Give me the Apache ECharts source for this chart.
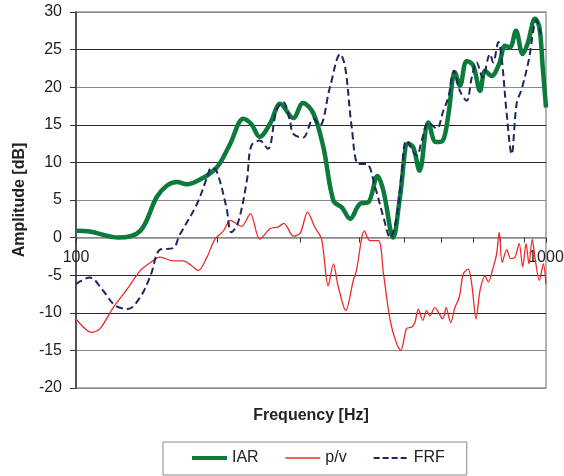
<!DOCTYPE html>
<html><head><meta charset="utf-8">
<script src="https://cdn.jsdelivr.net/npm/echarts@6/dist/echarts.min.js"></script>
<style>html,body{margin:0;padding:0;background:#fff}#c{width:564px;height:476px}</style>
</head><body><div id="c"></div>
<script>
const seriesNames = ['IAR', 'p/v', 'FRF'];
const iarFreq = [100,107,123,137,148.5,156,164,172,187,196,202,213,227,236,246,259,272,290,304,320,336,353,368,383,402,419,438,451,473,489,509,522,538,562,583,603,620,640,656,678,700,724,742,766,795,818,838,863,892,914,948,968,984,1000];
const iarAmp = [0.9,0.8,0,0.9,5.4,6.9,7.4,7.1,8.0,8.9,9.8,12.5,15.8,15.1,13.4,15.2,17.8,15.9,17.9,16.5,12.0,4.9,4.0,2.5,4.5,4.7,8.2,6.2,0,5.4,12.5,12.0,8.9,15.3,12.7,12.9,16.4,22.0,20.2,23.5,22.9,19.5,22.2,21.5,23.1,25.5,25.3,27.5,24.4,25.8,29.1,28.0,22.7,17.3];
const pvFreq = [100,108,112.5,120,128,137,144,151,161,169,176,182,190,197.5,206,213,225,235,246,259,269,277,290,300,311,322,333,344,353,361,375,389,395,411,422,440,451,466,481,491,505,518,526,535,547,557,566,580,603,613,627,640,654,667,683,695,710,724,742,754,770,785,795,807,825,841,859,877,892,907,920,935,948,968,987,1000];
const pvAmp = [-10.8,-12.6,-12.1,-9.3,-7.0,-4.4,-3.3,-2.6,-3.1,-3.1,-3.7,-4.4,-2.6,-0.2,0.9,2.3,1.5,3.2,-0.2,1.2,1.4,1.9,0.2,0.6,3.4,1.4,-0.2,-6.4,-3.5,-6.4,-9.7,-5.7,-4.4,0.9,-0.4,-0.4,-4.8,-11.0,-14.1,-15.0,-12.1,-11.9,-11.3,-9.5,-11.0,-9.7,-10.4,-9.3,-10.8,-9.3,-11.3,-9.3,-7.9,-4.8,-4.2,-6.2,-10.8,-7.0,-5.1,-5.9,-4.2,-2.2,0.7,-3.3,-1.6,-2.8,-2.6,-0.8,-3.9,-0.8,-3.5,-0.2,-2.8,-5.7,-3.5,-6.2];
const frfFreq = [100,107,114,121,129,137,144,151,161,166,181,190,194,199,209,214,221,231,236,246,256,267,276,285,290,304,320,330,347,365,374,386,399,415,433,451,466,481,493,505,531,544,562,585,605,620,637,656,678,695,712,733,760,772,792,805,825,845,866,888,917,956,979,1000];
const frfAmp = [-6.2,-5.3,-7.0,-9.0,-9.5,-7.9,-5.1,-1.6,-1.4,0.3,4.5,8.0,9.3,8.9,4.0,0.7,1.9,7.6,12.2,12.9,11.8,16.9,18.0,15.6,13.8,13.3,15.8,14.9,20.0,24.4,22.6,14.7,9.8,9.8,6.7,2.7,0,2.7,8.5,12.9,10.9,12.9,15.3,14.5,16.9,18.7,22.2,19.5,18.2,21.3,23.3,21.3,24.4,23.3,26.0,23.8,16.4,11.1,17.8,19.8,23.3,28.9,27.1,27.3];
const xLabelValues = [100, 1000];
const xMinorTicks = [200, 300, 400, 500, 600, 700, 800, 900];
const yMin = -20, yMax = 30, yStep = 5;
const xTitle = 'Frequency [Hz]';
const yTitle = 'Amplitude [dB]';

const pairs = (xs, ys) => xs.map((x, i) => [x, ys[i]]);
const FONT = 'Liberation Sans, Arial, sans-serif';
const GRID = {left: 76, right: 18, top: 12, bottom: 88};
const gridH = 476 - GRID.top - GRID.bottom;
// lift the x axis from the grid bottom up to the y = 0 level
const zeroOffset = -gridH * (0 - yMin) / (yMax - yMin);
const chart = echarts.init(document.getElementById('c'), null, {renderer: 'canvas'});
chart.setOption({
  animation: false,
  backgroundColor: '#fff',
  textStyle: {fontFamily: FONT},
  grid: Object.assign({show: true, borderColor: '#9a9a9a', borderWidth: 1.5, containLabel: false, outerBoundsMode: 'none'}, GRID),
  legend: {
    left: 163, top: 442, orient: 'horizontal',
    padding: [8, 22, 9, 27], itemGap: 26, itemWidth: 35, itemHeight: 14,
    borderColor: '#888', borderWidth: 1,
    textStyle: {fontFamily: FONT, fontSize: 16, color: '#222'},
    itemStyle: {opacity: 0},
    data: [
      {name: seriesNames[0], lineStyle: {width: 4}},
      {name: seriesNames[1], lineStyle: {width: 1.3}},
      {name: seriesNames[2], lineStyle: {width: 2, type: [6, 3]}}
    ]
  },
  xAxis: [{
    type: 'log', logBase: 10, min: 100, max: 1000, position: 'bottom', offset: zeroOffset,
    name: xTitle, nameLocation: 'middle', nameGap: 170,
    nameTextStyle: {fontFamily: FONT, fontSize: 16, fontWeight: 'bold', color: '#222'},
    axisLine: {show: true, onZero: true, onZeroAxisIndex: 0, lineStyle: {color: '#8a8a8a', width: 1.5}},
    axisTick: {show: true, length: 5, lineStyle: {color: '#333', width: 1}},
    axisLabel: {show: true, margin: 12, fontFamily: FONT, fontSize: 16, color: '#222',
      formatter: v => String(Math.round(v)), customValues: xLabelValues},
    splitLine: {show: false}, minorTick: {show: false}
  }, {
    type: 'value', min: Math.log10(100), max: Math.log10(1000), position: 'bottom', offset: zeroOffset,
    axisLine: {show: false, onZero: true, onZeroAxisIndex: 0},
    axisTick: {show: true, length: 5, lineStyle: {color: '#333', width: 1},
      customValues: xMinorTicks.map(v => Math.log10(v))},
    axisLabel: {show: false},
    splitLine: {show: false}
  }],
  yAxis: {
    type: 'value', min: yMin, max: yMax, interval: yStep,
    name: yTitle, nameLocation: 'middle', nameGap: 46, nameRotate: 90,
    nameTextStyle: {fontFamily: FONT, fontSize: 16, fontWeight: 'bold', color: '#222'},
    axisLine: {show: true, onZero: false, lineStyle: {color: '#333', width: 1.5}},
    axisTick: {show: true, inside: false, length: 6, lineStyle: {color: '#333'}},
    axisLabel: {margin: 14, fontFamily: FONT, fontSize: 16, color: '#222'},
    splitLine: {show: true, lineStyle: {width: 1,
      color: ['#8a8a8a','#8a8a8a','#2a2a2a','#2a2a2a','#8a8a8a','#8a8a8a','#2a2a2a','#2a2a2a','#8a8a8a','#2a2a2a','#8a8a8a']}}
  },
  series: [
    {name: seriesNames[0], type: 'line', xAxisIndex: 0, data: pairs(iarFreq, iarAmp), symbol: 'none', smooth: 0.35,
      lineStyle: {color: '#0b7a3a', width: 4.5}, itemStyle: {color: '#0b7a3a'}, z: 2},
    {name: seriesNames[1], type: 'line', xAxisIndex: 0, data: pairs(pvFreq, pvAmp), symbol: 'none', smooth: 0.3,
      lineStyle: {color: '#ec2a2a', width: 1.3}, itemStyle: {color: '#ec2a2a'}, z: 3},
    {name: seriesNames[2], type: 'line', xAxisIndex: 0, data: pairs(frfFreq, frfAmp), symbol: 'none', smooth: 0.35,
      lineStyle: {color: '#1e2660', width: 2, type: [7, 4]}, itemStyle: {color: '#1e2660'}, z: 4}
  ]
});
</script></body></html>
